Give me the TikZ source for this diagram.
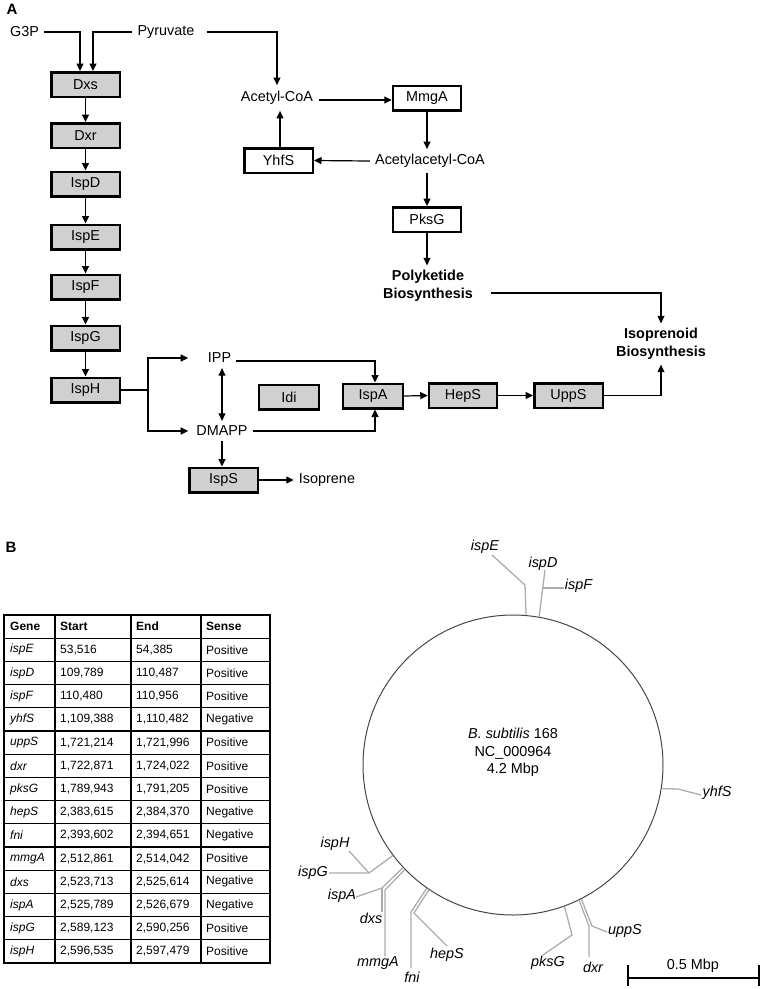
\documentclass[tikz,border=0pt]{standalone}
\usepackage{fontspec}
\setmainfont{Liberation Sans}
\usetikzlibrary{arrows.meta,calc}
\definecolor{boxgray}{RGB}{208,208,208}
\definecolor{genegray}{RGB}{172,172,172}
\definecolor{circgray}{RGB}{70,70,70}
\tikzset{
  every node/.style={font=\fontsize{14.4}{17.5}\selectfont},
  enz/.style={draw, line width=2.5pt, fill=boxgray, minimum width=68.5, minimum height=24.5, inner sep=0},
  enzw/.style={enz, fill=white},
  met/.style={inner sep=5pt},
  bold2/.style={inner sep=5pt, align=center, font=\fontsize{14.4}{17.5}\selectfont\bfseries},
  arr/.style={line width=1.2pt, -{Triangle[length=7.5pt,width=7pt]}},
  darr/.style={line width=1.2pt, {Triangle[length=7.5pt,width=7pt]}-{Triangle[length=7.5pt,width=7pt]}},
  ln/.style={line width=1.2pt},
  gl/.style={draw=genegray, line width=1.3pt},
  gene/.style={font=\fontsize{14.4}{17.5}\selectfont\itshape, inner sep=1pt},
  cell/.style={anchor=west, font=\fontsize{12}{14}\selectfont, inner sep=0},
  tline/.style={line width=1.2pt},
}
\begin{document}
\begin{tikzpicture}[x=1pt,y=-1pt]
\useasboundingbox (0,0) rectangle (764,989);
% ---------------- Panel A ----------------
\node[font=\fontsize{15}{17.5}\selectfont\bfseries, inner sep=0] (labA) at (12,9) {A};
\node[met] (g3p) at (24.5,32) {G3P};
\node[met] (pyr) at (166,32) {Pyruvate};
\node[enz] (dxs) at (85.5,84.5) {Dxs};
\node[enz] (dxr) at (85.5,135.5) {Dxr};
\node[enz] (ispD) at (85.5,184) {IspD};
\node[enz] (ispE) at (85.5,237) {IspE};
\node[enz] (ispF) at (85.5,287) {IspF};
\node[enz] (ispG) at (85.5,338) {IspG};
\node[enz] (ispH) at (85.5,390) {IspH};

\node[met, inner sep=6pt] (acetyl) at (277,98) {Acetyl-CoA};
\node[enzw, minimum width=68] (mmga) at (427,98) {MmgA};
\node[met] (acac) at (430,161) {Acetylacetyl-CoA};
\node[enzw] (yhfs) at (278.5,160.5) {YhfS};
\node[enzw, minimum width=68] (pksg) at (427,219.5) {PksG};
\node[bold2] (polyk) at (428,286) {Polyketide\\Biosynthesis};
\node[bold2] (iso) at (661,344) {Isoprenoid\\Biosynthesis};

\node[met] (ipp) at (219.5,358) {IPP};
\node[met] (dmapp) at (222,431) {DMAPP};
\node[enz, minimum width=60] (idi) at (289,397) {Idi};
\node[enz, minimum width=60] (ispA) at (373,396) {IspA};
\node[enz, minimum width=68] (heps) at (463,395.5) {HepS};
\node[enz] (upps) at (568.5,395.5) {UppS};
\node[enz] (isps) at (223.5,480) {IspS};
\node[met] (isoprene) at (327,480) {Isoprene};

% connectors A
\draw[arr] (g3p.east) -| ([xshift=-5.5]dxs.north);
\draw[arr] (pyr.west) -| ([xshift=7.5]dxs.north);
\draw[arr] ([xshift=7]pyr.east) -| (acetyl.north);
\draw[arr] (dxs) -- (dxr);
\draw[arr] (dxr) -- (ispD);
\draw[arr] (ispD) -- (ispE);
\draw[arr] (ispE) -- (ispF);
\draw[arr] (ispF) -- (ispG);
\draw[arr] (ispG) -- (ispH);
\draw[arr] ([yshift=-2]acetyl.east) -- ([yshift=-2]mmga.west);
\draw[arr] (mmga.south) -- (mmga.south |- acac.north);
\draw[arr] (acac.west) -- (yhfs.east);
\draw[arr] ([xshift=1.5]yhfs.north) -- ([xshift=1.5]yhfs.north |- acetyl.south);
\draw[arr] (pksg.north |- acac.south) -- (pksg.north);
\draw[arr] (pksg.south) -- (pksg.south |- polyk.north);
\draw[arr] ([xshift=13,yshift=-7]polyk.east) -| (iso.north);
\coordinate (split) at (148,390);
\draw[ln] (ispH.east) -- (split);
\draw[arr] (split) |- ($(dmapp.west |- ipp.west)+(-3,0)$);
\draw[arr] (split) |- ([xshift=-3]dmapp.west);
\draw[darr] (dmapp.north |- ipp.south) -- (dmapp.north);
\draw[arr] ([yshift=-3]ipp.east) -| ([xshift=2]ispA.north);
\draw[arr] (dmapp.east) -| ([xshift=2]ispA.south);
\draw[arr] (ispA.east) -- (heps.west);
\draw[arr] (heps.east) -- (upps.west);
\draw[arr] (upps.east) -| (iso.south);
\draw[arr] (dmapp.south) -- (dmapp.south |- isps.north);
\draw[arr] (isps.east) -- (isoprene.west);

% ---------------- Panel B ----------------
\node[font=\fontsize{15}{17.5}\selectfont\bfseries, inner sep=0] (labB) at (11,547) {B};

% table
\draw[tline] (4,615) rectangle (270,963);
\foreach \c [count=\k] in {55,131,201} {
  \draw[tline] (\c,615) -- (\c,963);
}
\foreach \r in {1,...,14} {
  \draw[tline] (4,{615+23.2*\r}) -- (270,{615+23.2*\r});
}
\node[cell, font=\fontsize{12}{14}\selectfont\bfseries] (h1) at (10,626.6) {Gene};
\node[cell, font=\fontsize{12}{14}\selectfont\bfseries] (h2) at (60,626.6) {Start};
\node[cell, font=\fontsize{12}{14}\selectfont\bfseries] (h3) at (136,626.6) {End};
\node[cell, font=\fontsize{12}{14}\selectfont\bfseries] (h4) at (206,626.6) {Sense};
\foreach \g/\s/\e/\d [count=\i] in {
  ispE/{53,516}/{54,385}/Positive,
  ispD/{109,789}/{110,487}/Positive,
  ispF/{110,480}/{110,956}/Positive,
  yhfS/{1,109,388}/{1,110,482}/Negative,
  uppS/{1,721,214}/{1,721,996}/Positive,
  dxr/{1,722,871}/{1,724,022}/Positive,
  pksG/{1,789,943}/{1,791,205}/Positive,
  hepS/{2,383,615}/{2,384,370}/Negative,
  fni/{2,393,602}/{2,394,651}/Negative,
  mmgA/{2,512,861}/{2,514,042}/Positive,
  dxs/{2,523,713}/{2,525,614}/Negative,
  ispA/{2,525,789}/{2,526,679}/Negative,
  ispG/{2,589,123}/{2,590,256}/Positive,
  ispH/{2,596,535}/{2,597,479}/Positive} {
  \node[cell, font=\fontsize{12}{14}\selectfont\itshape] (g\i) at (10,{615+23.2*(\i+0.5)}) {\g};
  \node[cell] (s\i) at (60,{615+23.2*(\i+0.5)}) {\s};
  \node[cell] (e\i) at (136,{615+23.2*(\i+0.5)}) {\e};
  \node[cell] (d\i) at (206,{615+23.2*(\i+0.5)}) {\d};
}

% genome circle
\node[circle, draw=circgray, line width=1pt, minimum size=300, inner sep=0] (genome) at (513,765) {};
\node[align=center, inner sep=0] (gtext) at (513,752.5) {\textit{B. subtilis} 168\\NC\_000964\\4.2 Mbp};

% gene labels
\node[gene] (LispE) at (485,547) {ispE};
\node[gene] (LispD) at (543,564) {ispD};
\node[gene] (LispF) at (578.5,586) {ispF};
\node[gene] (LyhfS) at (717,793) {yhfS};
\node[gene] (LispH) at (335,844) {ispH};
\node[gene] (LispG) at (313,873) {ispG};
\node[gene] (LispA) at (342,896) {ispA};
\node[gene] (Ldxs) at (371,918) {dxs};
\node[gene] (LmmgA) at (378,963) {mmgA};
\node[gene] (Lfni) at (412,977) {fni};
\node[gene] (LhepS) at (447,955) {hepS};
\node[gene] (LpksG) at (548,963) {pksG};
\node[gene] (Ldxr) at (593,967) {dxr};
\node[gene] (LuppS) at (625,931) {uppS};

% gene lines
\coordinate (eB) at (525,585); \coordinate (eE) at (492,555);
\draw[gl] (genome.85.4) -- (eB) -- (eE);
\coordinate (dE) at (545,570); \coordinate (fB) at (541.8,588); \coordinate (fE) at (564,588);
\draw[gl] (genome.80.8) -- (dE);
\draw[gl] (fB) -- (fE);
\coordinate (yB) at (678,789); \coordinate (yE) at (701,795);
\draw[gl] (genome.-9.1) -- (yB) -- (yE);
\coordinate (hgB) at (369,873); \coordinate (gE) at (329,873); \coordinate (hE) at (349,851);
\draw[gl] (genome.217.2) -- (hgB) -- (gE);
\draw[gl] (hgB) -- (hE);
\coordinate (aB1) at (382,888); \coordinate (aB2) at (385,890);
\coordinate (aE) at (356,897); \coordinate (xsE) at (382,912); \coordinate (mE) at (385,956);
\draw[gl] (genome.223.1) -- (aB1) -- (aE);
\draw[gl] (aB1) -- (xsE);
\draw[gl] (genome.224.5) -- (aB2) -- (mE);
\coordinate (fnB) at (411,912); \coordinate (hpB) at (414,913);
\coordinate (fnE) at (411,968); \coordinate (hpE) at (447,946);
\draw[gl] (genome.235) -- (fnB) -- (fnE);
\draw[gl] (genome.236.3) -- (hpB) -- (hpE);
\coordinate (pB) at (572,935); \coordinate (pE) at (543,955);
\draw[gl] (genome.-70.7) -- (pB) -- (pE);
\coordinate (drB) at (589,926); \coordinate (upB) at (592,926);
\coordinate (drE) at (589,957); \coordinate (upE) at (607,932);
\draw[gl] (genome.-64.6) -- (drB) -- (drE);
\draw[gl] (genome.-63.7) -- (upB) -- (upE);

% scale bar
\coordinate (sbL) at (628,978); \coordinate (sbR) at (759,978);
\draw[line width=2pt] (sbL) -- (sbR);
\draw[line width=2pt] (628,965) -- (628,986);
\draw[line width=2pt] (759,965) -- (759,986);
\node[inner sep=0] (sbtext) at (693,966) {0.5 Mbp};
\end{tikzpicture}
\end{document}
